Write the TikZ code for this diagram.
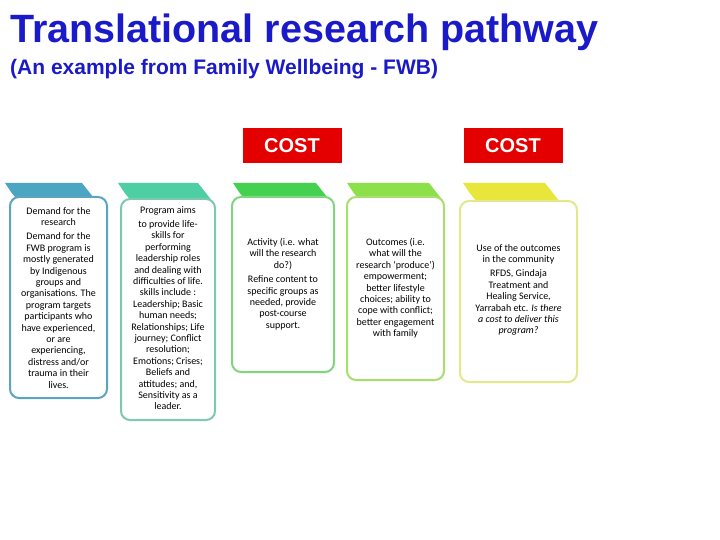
\documentclass[tikz,border=0pt]{standalone}
\usepackage{fontspec}
\setmainfont{Carlito}
\newfontfamily\arialf{Liberation Sans}
\begin{document}
\begin{tikzpicture}[x=1pt,y=-1pt,
  bx/.style={line width=2pt,rounded corners=9pt,fill=white},
  tx/.style={align=center,font=\fontsize{10}{11.4}\selectfont,inner sep=0pt,anchor=north},
  cost/.style={fill=red!90!black,text=white,font=\arialf\bfseries\fontsize{20}{22}\selectfont,minimum width=99pt,minimum height=35pt,inner sep=0pt}]
\useasboundingbox (0,0) rectangle (720,540);
\definecolor{c1}{HTML}{4BA6C4}\definecolor{b1}{HTML}{5AA5C0}
\definecolor{c2}{HTML}{4DCFA3}\definecolor{b2}{HTML}{7CC9B3}
\definecolor{c3}{HTML}{45D150}\definecolor{b3}{HTML}{7FD67C}
\definecolor{c4}{HTML}{8CE04A}\definecolor{b4}{HTML}{A8DE6E}
\definecolor{c5}{HTML}{E8E63A}\definecolor{b5}{HTML}{E4E88C}
\definecolor{ttl}{HTML}{1A1AC8}
\node[anchor=base west,inner sep=0pt,text=ttl,font=\arialf\bfseries\fontsize{39.5}{42}\selectfont] (title) at (10,43) {Translational research pathway};
\node[anchor=base west,inner sep=0pt,text=ttl,font=\arialf\bfseries\fontsize{21}{23}\selectfont] (sub) at (10,75) {(An example from Family Wellbeing - FWB)};
\node[cost] (cost1) at (292,146) {COST};
\node[cost] (cost2) at (513,146) {COST};
% tabs
\foreach \x/\c/\w in {5/c1/92, 118/c2/95, 233/c3/98, 347/c4/97, 463/c5/97}{
  \fill[\c] (\x,183) -- (\x+\w-15,183) -- (\x+\w,202) -- (\x+14,202) -- (\x+6,192) -- cycle;
}
\draw[bx,draw=b1] (10,197) rectangle (107,398);
\draw[bx,draw=b2] (121,199) rectangle (215,420);
\draw[bx,draw=b3] (232,197) rectangle (334,372);
\draw[bx,draw=b4] (347,197) rectangle (444,380);
\draw[bx,draw=b5] (460,201) rectangle (577,382);
\node[tx] (t1) at (58.5,207) {Demand for the\\research\\[3pt]Demand for the\\FWB program is\\mostly generated\\by Indigenous\\groups and\\organisations. The\\program targets\\participants who\\have experienced,\\or are\\experiencing,\\distress and/or\\trauma in their\\lives.};
\node[tx] (t2) at (168,206) {Program aims\\[3pt]to provide life-\\skills for\\performing\\leadership roles\\and dealing with\\difficulties of life.\\skills include :\\Leadership; Basic\\human needs;\\Relationships; Life\\journey; Conflict\\resolution;\\Emotions; Crises;\\Beliefs and\\attitudes; and,\\Sensitivity as a\\leader.};
\node[tx] (t3) at (283,238) {Activity (i.e. what\\will the research\\do?)\\[3pt]Refine content to\\specific groups as\\needed, provide\\post-course\\support.};
\node[tx] (t4) at (395.5,238) {Outcomes (i.e.\\what will the\\research `produce')\\empowerment;\\better lifestyle\\choices; ability to\\cope with conflict;\\better engagement\\with family};
\node[tx] (t5) at (518.5,244) {Use of the outcomes\\in the community\\[3pt]RFDS, Gindaja\\Treatment and\\Healing Service,\\Yarrabah etc. \textit{Is there}\\\textit{a cost to deliver this}\\\textit{program?}};
\end{tikzpicture}
\end{document}
